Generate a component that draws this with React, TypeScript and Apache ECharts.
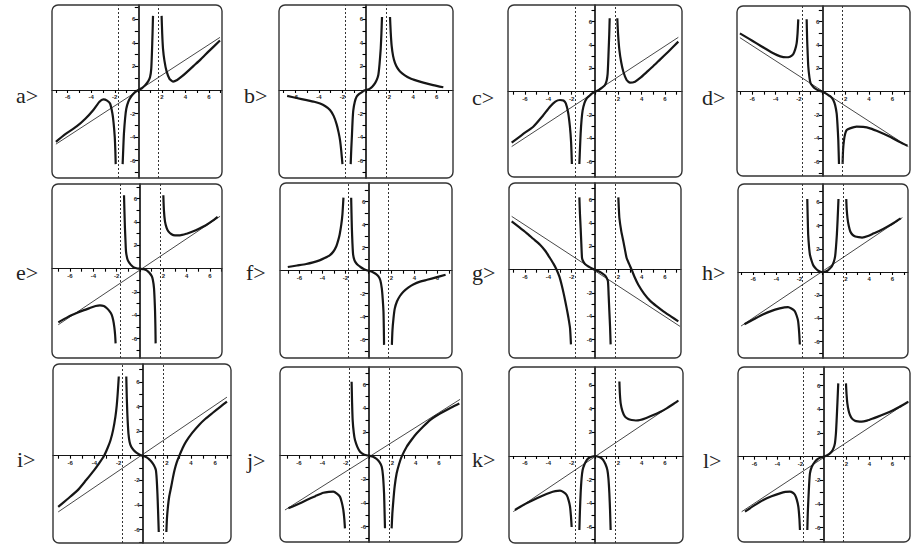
import { useEffect, useRef } from "react";
import * as echarts from "echarts";

type Pt = [number, number];

// shared axis values
const asymptotes = [-1.73, 1.73];
const tickValues = [-7, -6, -5, -4, -3, -2, -1, 0, 1, 2, 3, 4, 5, 6, 7];
const labelValues = [-6, -4, -2, 2, 4, 6];

// a>
const aLine: Pt[] = [[-7.0, -4.6], [6.94, 4.47]];
const aLeft: Pt[] = [[-7.0, -4.4], [-6.2, -3.75], [-5.24, -3.1], [-4.5, -2.45], [-3.82, -1.7], [-3.3, -1.0], [-2.97, -0.8], [-2.65, -0.9], [-2.4, -1.15], [-2.2, -2.0], [-2.1, -2.8], [-2.0, -4.0], [-1.95, -5.2], [-1.92, -6.3]];
const aMid: Pt[] = [[-1.33, -6.3], [-1.27, -4.8], [-1.22, -3.7], [-1.12, -2.4], [-1.02, -1.6], [-0.85, -1.0], [-0.6, -0.55], [-0.3, -0.2], [0, 0], [0.3, 0.15], [0.6, 0.42], [0.85, 0.75], [1.0, 1.1], [1.1, 1.8], [1.16, 3.2], [1.21, 4.8], [1.25, 6.3]];
const aRight: Pt[] = [[1.98, 6.3], [2.03, 4.8], [2.1, 3.5], [2.22, 2.5], [2.4, 1.6], [2.65, 0.95], [2.95, 0.72], [3.3, 0.85], [3.7, 1.15], [4.1, 1.5], [4.7, 2.05], [5.3, 2.6], [6.0, 3.3], [6.94, 4.2]];

// b>
const bLeft: Pt[] = [[-6.7, -0.5], [-5.9, -0.68], [-5.04, -0.86], [-4.4, -1.0], [-3.9, -1.15], [-3.45, -1.38], [-3.06, -1.7], [-2.75, -2.2], [-2.5, -2.9], [-2.33, -3.6], [-2.2, -4.3], [-2.1, -5.2], [-2.0, -6.3]];
const bMid: Pt[] = [[-1.3, -6.3], [-1.25, -5.0], [-1.19, -3.75], [-1.14, -2.6], [-1.08, -1.73], [-0.95, -1.0], [-0.8, -0.58], [-0.6, -0.35], [-0.37, -0.2], [-0.15, -0.05], [0, 0], [0.15, 0.03], [0.34, 0.12], [0.55, 0.3], [0.77, 0.58], [0.93, 0.9], [1.05, 1.3], [1.15, 2.2], [1.25, 3.5], [1.31, 4.8], [1.36, 6.2]];
const bRight: Pt[] = [[2.04, 6.2], [2.1, 4.9], [2.18, 3.75], [2.3, 2.9], [2.46, 2.3], [2.65, 1.9], [2.89, 1.58], [3.3, 1.25], [3.74, 1.0], [4.3, 0.8], [4.87, 0.63], [5.7, 0.42], [6.57, 0.23]];

// c>
const cLine: Pt[] = [[-7.14, -4.7], [7.14, 4.66]];
const cLeft: Pt[] = [[-7.14, -4.37], [-6.2, -3.65], [-5.29, -3.0], [-4.5, -2.1], [-3.86, -1.29], [-3.4, -0.85], [-3.0, -0.71], [-2.7, -0.75], [-2.5, -1.0], [-2.3, -1.8], [-2.15, -3.0], [-2.05, -4.3], [-1.98, -6.2]];
const cMid: Pt[] = [[-1.34, -6.2], [-1.28, -4.7], [-1.23, -3.57], [-1.15, -2.4], [-1.06, -1.6], [-0.9, -0.95], [-0.71, -0.57], [-0.45, -0.33], [-0.25, -0.15], [0, 0], [0.25, 0.1], [0.45, 0.23], [0.7, 0.42], [0.88, 0.62], [1.0, 0.95], [1.08, 1.5], [1.13, 2.5], [1.17, 3.57], [1.22, 4.9], [1.26, 6.3]];
const cRight: Pt[] = [[1.91, 6.3], [1.98, 4.9], [2.09, 3.57], [2.25, 2.5], [2.43, 1.71], [2.71, 1.0], [3.0, 0.77], [3.43, 0.86], [3.9, 1.2], [4.43, 1.68], [5.0, 2.2], [5.57, 2.75], [6.3, 3.45], [7.14, 4.29]];

// d>
const dLine: Pt[] = [[-7.06, 4.63], [7.37, -4.71]];
const dLeft: Pt[] = [[-7.06, 5.0], [-6.3, 4.55], [-5.63, 4.14], [-4.9, 3.7], [-4.2, 3.29], [-3.6, 3.03], [-3.1, 2.95], [-2.77, 3.0], [-2.5, 3.2], [-2.33, 3.6], [-2.2, 4.14], [-2.12, 5.0], [-2.06, 6.2]];
const dMid: Pt[] = [[-1.34, 6.2], [-1.3, 4.5], [-1.25, 3.2], [-1.2, 2.14], [-1.1, 1.2], [-1.0, 0.71], [-0.8, 0.45], [-0.63, 0.29], [-0.3, 0.1], [0, 0], [0.25, -0.12], [0.51, -0.29], [0.75, -0.45], [0.94, -0.71], [1.1, -1.15], [1.23, -1.86], [1.3, -2.8], [1.37, -4.14], [1.43, -6.2]];
const dRight: Pt[] = [[1.74, -6.2], [1.78, -5.0], [1.86, -4.14], [1.96, -3.6], [2.09, -3.29], [2.37, -3.14], [2.94, -3.0], [3.5, -3.02], [4.09, -3.14], [4.9, -3.45], [5.8, -3.86], [6.6, -4.3], [7.3, -4.63]];

// e>
const eLine: Pt[] = [[-7.0, -4.8], [6.86, 4.49]];
const eLeft: Pt[] = [[-7.0, -4.6], [-6.2, -4.15], [-5.43, -3.8], [-4.8, -3.55], [-4.29, -3.37], [-3.8, -3.2], [-3.43, -3.14], [-3.1, -3.2], [-2.86, -3.37], [-2.6, -3.65], [-2.43, -3.94], [-2.3, -4.4], [-2.2, -5.0], [-2.13, -5.7], [-2.09, -6.4]];
const eMid: Pt[] = [[-1.37, 6.3], [-1.33, 4.8], [-1.29, 3.49], [-1.24, 2.3], [-1.2, 1.49], [-1.1, 0.9], [-1.0, 0.63], [-0.8, 0.35], [-0.57, 0.14], [-0.3, 0.04], [0, 0], [0.3, -0.04], [0.57, -0.14], [0.8, -0.35], [1.0, -0.63], [1.1, -0.95], [1.2, -1.66], [1.25, -2.6], [1.29, -3.66], [1.32, -5.0], [1.34, -6.4]];
const eRight: Pt[] = [[2.0, 6.3], [2.05, 5.0], [2.14, 4.06], [2.28, 3.5], [2.43, 3.2], [2.7, 2.95], [3.0, 2.86], [3.43, 2.86], [4.0, 3.0], [4.57, 3.2], [5.1, 3.45], [5.71, 3.77], [6.2, 4.1], [6.65, 4.45]];

// f>
const fLeft: Pt[] = [[-7.0, 0.32], [-6.2, 0.45], [-5.4, 0.58], [-4.8, 0.72], [-4.24, 0.9], [-3.8, 1.1], [-3.36, 1.34], [-3.05, 1.65], [-2.78, 2.13], [-2.6, 2.7], [-2.49, 3.15], [-2.35, 4.0], [-2.25, 4.9], [-2.16, 6.35]];
const fMid: Pt[] = [[-1.49, 6.35], [-1.46, 5.0], [-1.43, 3.73], [-1.38, 2.4], [-1.32, 1.4], [-1.2, 0.9], [-1.05, 0.65], [-0.88, 0.47], [-0.65, 0.3], [-0.44, 0.17], [-0.2, 0.06], [0, 0], [0.2, -0.05], [0.44, -0.15], [0.65, -0.28], [0.88, -0.5], [1.05, -0.85], [1.17, -1.52], [1.25, -2.4], [1.32, -3.56], [1.35, -5.0], [1.37, -6.45]];
const fRight: Pt[] = [[2.05, -6.45], [2.1, -5.2], [2.19, -4.14], [2.3, -3.3], [2.49, -2.68], [2.75, -2.2], [3.07, -1.81], [3.5, -1.45], [3.95, -1.17], [4.5, -0.95], [5.12, -0.79], [5.9, -0.58], [6.72, -0.35]];

// g>
const gLine: Pt[] = [[-7.14, 4.57], [7.29, -4.86]];
const gLeft: Pt[] = [[-7.14, 4.14], [-6.5, 3.65], [-5.86, 3.14], [-5.3, 2.65], [-4.71, 2.14], [-4.25, 1.6], [-3.86, 1.0], [-3.55, 0.5], [-3.29, 0], [-3.05, -0.6], [-2.86, -1.29], [-2.65, -2.2], [-2.43, -3.29], [-2.28, -4.1], [-2.14, -5.0], [-2.06, -6.4]];
const gMid: Pt[] = [[-1.34, 6.2], [-1.29, 4.8], [-1.23, 3.57], [-1.17, 2.2], [-1.11, 1.0], [-1.0, 0.7], [-0.86, 0.49], [-0.65, 0.33], [-0.43, 0.2], [-0.2, 0.08], [0, 0], [0.2, -0.08], [0.43, -0.2], [0.65, -0.33], [0.86, -0.49], [1.0, -0.7], [1.11, -1.0], [1.17, -2.2], [1.23, -3.57], [1.29, -4.9], [1.34, -6.4]];
const gRight: Pt[] = [[2.0, 6.2], [2.04, 5.3], [2.09, 4.43], [2.25, 3.3], [2.43, 2.43], [2.57, 1.7], [2.71, 1.0], [2.92, 0.5], [3.14, 0], [3.4, -0.65], [3.71, -1.29], [4.2, -2.05], [4.71, -2.65], [5.3, -3.15], [5.86, -3.57], [6.5, -4.0], [7.14, -4.43]];

// h>
const hLine: Pt[] = [[-7.04, -4.66], [6.87, 4.69]];
const hLeft: Pt[] = [[-6.75, -4.51], [-5.9, -4.05], [-5.16, -3.66], [-4.4, -3.35], [-3.71, -3.14], [-3.3, -3.05], [-2.99, -3.03], [-2.7, -3.15], [-2.41, -3.37], [-2.25, -3.75], [-2.12, -4.23], [-2.03, -5.2], [-1.97, -6.25]];
const hMid: Pt[] = [[-1.33, 6.3], [-1.29, 4.6], [-1.25, 3.2], [-1.18, 2.2], [-1.1, 1.49], [-0.95, 0.95], [-0.81, 0.57], [-0.6, 0.3], [-0.38, 0.11], [-0.18, 0.02], [0, 0], [0.2, 0.02], [0.41, 0.11], [0.6, 0.28], [0.78, 0.49], [0.95, 0.85], [1.07, 1.34], [1.15, 2.2], [1.22, 3.2], [1.29, 4.6], [1.36, 6.3]];
const hRight: Pt[] = [[2.03, 6.3], [2.07, 5.4], [2.14, 4.63], [2.24, 4.0], [2.38, 3.49], [2.58, 3.2], [2.81, 3.06], [3.1, 3.0], [3.39, 2.97], [3.9, 3.1], [4.41, 3.34], [5.0, 3.6], [5.57, 3.91], [6.15, 4.25], [6.72, 4.63]];

// i>
const iLine: Pt[] = [[-7.0, -4.57], [6.98, 4.76]];
const iLeft: Pt[] = [[-7.0, -4.16], [-6.2, -3.5], [-5.38, -2.8], [-4.7, -2.0], [-4.02, -1.17], [-3.6, -0.6], [-3.2, 0], [-2.9, 0.65], [-2.66, 1.28], [-2.45, 2.1], [-2.26, 3.18], [-2.15, 4.1], [-2.07, 5.08], [-1.98, 6.44]];
const iMid: Pt[] = [[-1.36, 6.44], [-1.32, 4.8], [-1.28, 3.6], [-1.25, 2.91], [-1.18, 1.8], [-1.09, 1.14], [-0.95, 0.72], [-0.76, 0.46], [-0.55, 0.27], [-0.35, 0.14], [-0.15, 0.04], [0, 0], [0.15, -0.04], [0.33, -0.14], [0.52, -0.28], [0.73, -0.49], [0.93, -0.78], [1.09, -1.17], [1.16, -1.9], [1.22, -3.07], [1.27, -4.4], [1.33, -6.2]];
const iRight: Pt[] = [[1.96, -6.2], [2.01, -5.1], [2.09, -4.16], [2.2, -3.3], [2.36, -2.53], [2.5, -1.8], [2.64, -1.17], [2.82, -0.55], [3.04, 0], [3.3, 0.6], [3.59, 1.14], [4.1, 1.85], [4.67, 2.5], [5.2, 3.0], [5.76, 3.45], [6.4, 3.95], [6.98, 4.4]];

// j>
const jLine: Pt[] = [[-7.2, -4.59], [7.8, 4.76]];
const jLeft: Pt[] = [[-6.91, -4.45], [-6.1, -4.1], [-5.34, -3.75], [-4.6, -3.42], [-3.91, -3.13], [-3.45, -3.05], [-3.06, -3.04], [-2.75, -3.2], [-2.49, -3.46], [-2.33, -3.95], [-2.2, -4.59], [-2.12, -5.3], [-2.06, -6.14]];
const jMid: Pt[] = [[-1.49, 6.25], [-1.45, 4.5], [-1.4, 3.01], [-1.3, 1.9], [-1.2, 1.32], [-1.0, 0.75], [-0.77, 0.34], [-0.4, 0.08], [0, 0], [0.35, -0.08], [0.66, -0.28], [0.9, -0.55], [1.09, -0.93], [1.2, -1.7], [1.29, -3.18], [1.33, -4.6], [1.37, -6.14]];
const jRight: Pt[] = [[1.94, -6.14], [2.0, -4.9], [2.09, -3.75], [2.2, -2.6], [2.37, -1.49], [2.58, -0.7], [2.8, -0.08], [3.23, 0.76], [3.65, 1.35], [4.09, 1.89], [4.65, 2.47], [5.23, 3.01], [5.8, 3.4], [6.37, 3.72], [7.05, 4.08], [7.74, 4.42]];

// k>
const kLine: Pt[] = [[-7.0, -4.7], [7.14, 4.68]];
const kLeft: Pt[] = [[-6.86, -4.56], [-6.1, -4.12], [-5.29, -3.72], [-4.55, -3.38], [-3.86, -3.1], [-3.4, -2.97], [-3.0, -2.93], [-2.7, -3.05], [-2.43, -3.3], [-2.26, -3.75], [-2.14, -4.28], [-2.06, -5.1], [-2.0, -6.0]];
const kMid: Pt[] = [[-1.34, -6.25], [-1.29, -4.6], [-1.23, -3.15], [-1.15, -1.9], [-1.06, -1.18], [-0.9, -0.7], [-0.71, -0.34], [-0.5, -0.15], [-0.29, -0.06], [0, 0], [0.29, -0.06], [0.5, -0.15], [0.71, -0.34], [0.9, -0.7], [1.06, -1.18], [1.15, -1.9], [1.23, -3.15], [1.29, -4.6], [1.34, -6.25]];
const kRight: Pt[] = [[2.09, 6.3], [2.13, 5.3], [2.2, 4.45], [2.35, 3.8], [2.57, 3.32], [2.85, 3.12], [3.14, 3.04], [3.5, 3.0], [3.86, 3.04], [4.4, 3.22], [5.0, 3.46], [5.57, 3.72], [6.14, 4.03], [6.65, 4.35], [7.14, 4.68]];

// l>
const lLine: Pt[] = [[-7.1, -4.65], [7.39, 4.65]];
const lLeft: Pt[] = [[-6.81, -4.65], [-6.0, -4.12], [-5.22, -3.66], [-4.5, -3.35], [-3.77, -3.1], [-3.3, -2.98], [-2.9, -2.96], [-2.65, -3.05], [-2.46, -3.24], [-2.3, -3.65], [-2.17, -4.23], [-2.08, -5.2], [-2.03, -6.2]];
const lMid: Pt[] = [[-1.39, -6.2], [-1.35, -4.8], [-1.3, -3.66], [-1.23, -2.3], [-1.16, -1.41], [-1.0, -0.85], [-0.72, -0.42], [-0.5, -0.2], [-0.29, -0.08], [0, 0], [0.29, 0.11], [0.5, 0.22], [0.72, 0.42], [0.88, 0.7], [1.01, 1.13], [1.1, 2.0], [1.16, 3.1], [1.23, 4.6], [1.3, 6.2]];
const lRight: Pt[] = [[1.97, 6.2], [2.02, 5.3], [2.09, 4.51], [2.2, 3.9], [2.32, 3.52], [2.5, 3.22], [2.75, 3.04], [3.0, 2.98], [3.33, 2.96], [3.8, 3.05], [4.35, 3.24], [5.05, 3.5], [5.8, 3.8], [6.6, 4.2], [7.39, 4.65]];

const panels: { name: string; line: Pt[] | null; branches: Pt[][] }[] = [
  { name: "a>", line: aLine, branches: [aLeft, aMid, aRight] },
  { name: "b>", line: null, branches: [bLeft, bMid, bRight] },
  { name: "c>", line: cLine, branches: [cLeft, cMid, cRight] },
  { name: "d>", line: dLine, branches: [dLeft, dMid, dRight] },
  { name: "e>", line: eLine, branches: [eLeft, eMid, eRight] },
  { name: "f>", line: null, branches: [fLeft, fMid, fRight] },
  { name: "g>", line: gLine, branches: [gLeft, gMid, gRight] },
  { name: "h>", line: hLine, branches: [hLeft, hMid, hRight] },
  { name: "i>", line: iLine, branches: [iLeft, iMid, iRight] },
  { name: "j>", line: jLine, branches: [jLeft, jMid, jRight] },
  { name: "k>", line: kLine, branches: [kLeft, kMid, kRight] },
  { name: "l>", line: lLine, branches: [lLeft, lMid, lRight] },
];

// layout in page pixels: box [l, t, r, b], axis origin, px per unit, label position
const layout = [
  { box: [52, 5, 222, 178], o: [138.3, 90], ux: 11.77, uy: 11.77, lab: [16, 95] },
  { box: [279, 5, 453, 178], o: [366, 90], ux: 11.77, uy: 11.77, lab: [244, 95] },
  { box: [508, 5, 682, 177], o: [595, 91.7], ux: 11.67, uy: 11.67, lab: [472, 97] },
  { box: [737, 6, 910, 176], o: [822.3, 91.7], ux: 11.67, uy: 11.67, lab: [702, 97] },
  { box: [52, 184, 222, 358], o: [140, 268.7], ux: 11.67, uy: 11.67, lab: [16, 272] },
  { box: [280, 183, 452, 358], o: [368.3, 270.7], ux: 11.5, uy: 11.5, lab: [246, 272] },
  { box: [509, 183, 681, 358], o: [595, 269.7], ux: 11.67, uy: 11.67, lab: [472, 272] },
  { box: [738, 184, 908, 358], o: [822.7, 272], ux: 11.6, uy: 11.6, lab: [702, 272] },
  { box: [53, 364, 231, 543], o: [142.7, 455.7], ux: 12.07, uy: 12.3, lab: [17, 459] },
  { box: [280, 367, 462, 542], o: [369, 455.7], ux: 11.67, uy: 11.83, lab: [247, 460] },
  { box: [509, 367, 683, 543], o: [595, 456], ux: 11.67, uy: 11.83, lab: [472, 459] },
  { box: [738, 367, 910, 542], o: [823.3, 456.7], ux: 11.5, uy: 11.83, lab: [703, 460] },
];

const INK = "#161616";
const tickFont = { fontSize: 6, fontWeight: "bold" as const, color: "#222", fontFamily: "Liberation Sans" };

export default function App() {
  const ref = useRef<HTMLDivElement | null>(null);

  useEffect(() => {
    if (!ref.current) return;
    const chart = echarts.init(ref.current, null, { renderer: "svg" });

    const grid: any[] = [];
    const xAxis: any[] = [];
    const yAxis: any[] = [];
    const series: any[] = [];
    const graphic: any[] = [];

    panels.forEach((p, i) => {
      const L = layout[i];
      const [l, t, r, b] = L.box;
      grid.push({ left: l, top: t, width: r - l, height: b - t });
      // axes are placed through the origin with an offset from the grid edge
      xAxis.push({
        gridIndex: i,
        type: "value",
        position: "bottom",
        offset: -(b - L.o[1]),
        min: (l - L.o[0]) / L.ux,
        max: (r - L.o[0]) / L.ux,
        axisLine: { onZero: false, lineStyle: { color: INK, width: 1.1 } },
        axisTick: { customValues: tickValues, length: 3, lineStyle: { color: "#000", width: 1.1 } },
        axisLabel: { customValues: labelValues, margin: 4, ...tickFont },
        splitLine: { show: false },
      });
      yAxis.push({
        gridIndex: i,
        type: "value",
        position: "left",
        offset: -(L.o[0] - l),
        min: (L.o[1] - b) / L.uy,
        max: (L.o[1] - t) / L.uy,
        axisLine: { onZero: false, lineStyle: { color: INK, width: 1.7 } },
        axisTick: { customValues: tickValues, length: 3.5, lineStyle: { color: "#000", width: 1.1 } },
        axisLabel: { customValues: labelValues, margin: 3, ...tickFont },
        splitLine: { show: false },
      });

      if (p.line) {
        series.push({
          type: "line",
          xAxisIndex: i,
          yAxisIndex: i,
          data: p.line,
          symbol: "none",
          lineStyle: { color: "#333", width: 0.9 },
          z: 2,
        });
      }
      p.branches.forEach((br, k) => {
        series.push({
          type: "line",
          xAxisIndex: i,
          yAxisIndex: i,
          data: br,
          symbol: "none",
          smooth: 0.2,
          lineStyle: { color: INK, width: 2.2, join: "round" },
          z: 3,
          markLine:
            k === 0
              ? {
                  silent: true,
                  symbol: ["none", "none"],
                  label: { show: false },
                  lineStyle: { color: "#333", width: 1, type: [2, 2] },
                  data: asymptotes.map((v) => ({ xAxis: v })),
                }
              : undefined,
        });
      });

      graphic.push({
        type: "rect",
        shape: { x: l, y: t, width: r - l, height: b - t, r: 6 },
        style: { fill: "none", stroke: "#333", lineWidth: 1.4 },
        z: 10,
      });
      graphic.push({
        type: "text",
        x: L.lab[0],
        y: L.lab[1],
        style: {
          text: p.name,
          fontSize: 22,
          fontFamily: "Liberation Serif",
          fill: "#222",
          verticalAlign: "middle",
        },
      });
    });

    chart.setOption({
      animation: false,
      backgroundColor: "#fff",
      grid,
      xAxis,
      yAxis,
      series,
      graphic,
    });

    return () => chart.dispose();
  }, []);

  return (
    <div
      ref={ref}
      style={{ position: "fixed", left: 0, top: 0, width: 914, height: 550, background: "#fff" }}
    />
  );
}
